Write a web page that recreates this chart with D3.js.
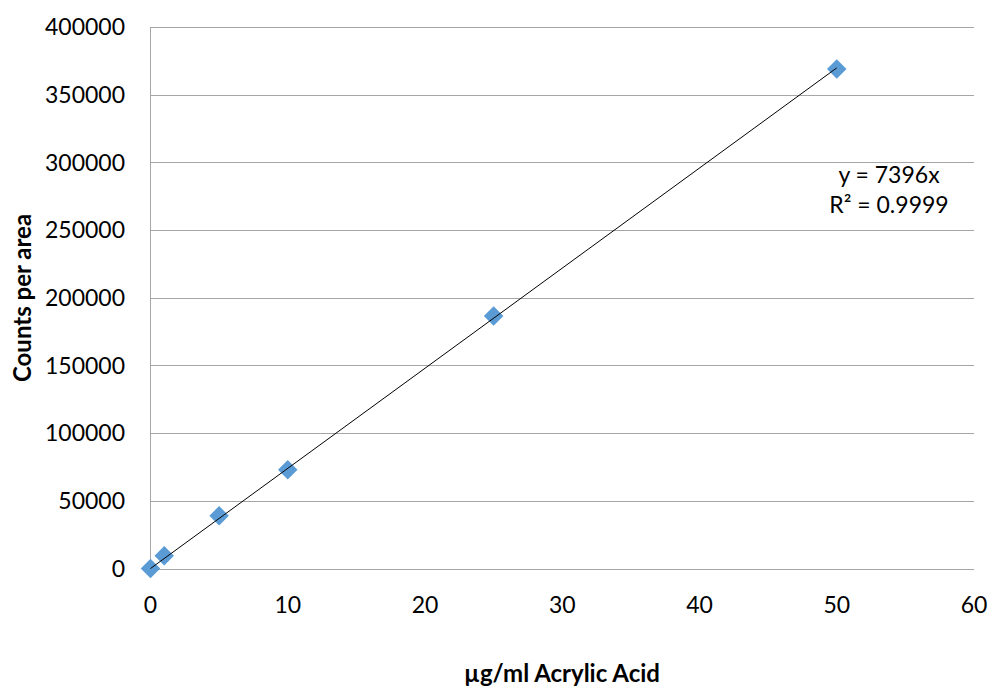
<!DOCTYPE html>
<html><head><meta charset="utf-8">
<script src="https://cdn.jsdelivr.net/npm/d3@7"></script>
<style>body{margin:0;background:#fff}svg{display:block}text{font-family:Lato,"Open Sans",sans-serif;fill:#000}</style>
</head><body>
<svg id="c" width="992" height="686"></svg>
<script>
const xValues = [0, 1, 5, 10, 25, 50];
const yValues = [0, 9500, 39000, 73000, 186500, 369000];
const xTicks = [0, 10, 20, 30, 40, 50, 60];
const yTicks = [0, 50000, 100000, 150000, 200000, 250000, 300000, 350000, 400000];
const slope = 7396;
const equationLines = ["y = 7396x", "R² = 0.9999"];
const xTitle = "µg/ml Acrylic Acid";
const yTitle = "Counts per area";

const svg = d3.select("#c");
const x = d3.scaleLinear().domain([0, 60]).range([150.5, 974]);
const y = d3.scaleLinear().domain([0, 400000]).range([568.5, 27]);

// gridlines
svg.append("g").selectAll("line").data(yTicks).join("line")
  .attr("x1", x(0)).attr("x2", x(60))
  .attr("y1", d => Math.round(y(d)) + 0.5).attr("y2", d => Math.round(y(d)) + 0.5)
  .attr("stroke", "#a6a6a6").attr("stroke-width", 1);
svg.append("line").attr("x1", x(0)).attr("x2", x(0)).attr("y1", y(400000)).attr("y2", y(0))
  .attr("stroke", "#a6a6a6").attr("stroke-width", 1);

// y tick labels
svg.append("g").selectAll("text").data(yTicks).join("text")
  .attr("x", 125).attr("y", d => y(d)).attr("dy", "0.36em")
  .attr("text-anchor", "end").attr("font-size", 23).text(d => d);
// x tick labels
svg.append("g").selectAll("text").data(xTicks).join("text")
  .attr("x", d => x(d)).attr("y", 605).attr("dy", "0.36em")
  .attr("text-anchor", "middle").attr("font-size", 23).text(d => d);

// points
svg.append("g").selectAll("path").data(xValues.map((v, i) => [v, yValues[i]])).join("path")
  .attr("d", d3.symbol(d3.symbolSquare, 190))
  .attr("transform", d => `translate(${x(d[0])},${y(d[1])}) rotate(45)`)
  .attr("fill", "#5b9bd5");

// trendline
svg.append("line")
  .attr("x1", x(0)).attr("y1", y(0))
  .attr("x2", x(d3.max(xValues))).attr("y2", y(slope * d3.max(xValues)))
  .attr("stroke", "#000").attr("stroke-width", 1);

// equation
svg.append("g").selectAll("text").data(equationLines).join("text")
  .attr("x", 889).attr("y", (d, i) => 175 + i * 30).attr("dy", "0.36em")
  .attr("text-anchor", "middle").attr("font-size", 23).text(d => d);

// axis titles
svg.append("text").attr("x", 562).attr("y", 673).attr("dy", "0.36em")
  .attr("text-anchor", "middle").attr("font-size", 24).attr("font-weight", "bold").text(xTitle);
svg.append("text").attr("transform", "translate(22,298) rotate(-90)").attr("dy", "0.36em")
  .attr("text-anchor", "middle").attr("font-size", 24).attr("font-weight", "bold").text(yTitle);
</script>
</body></html>
